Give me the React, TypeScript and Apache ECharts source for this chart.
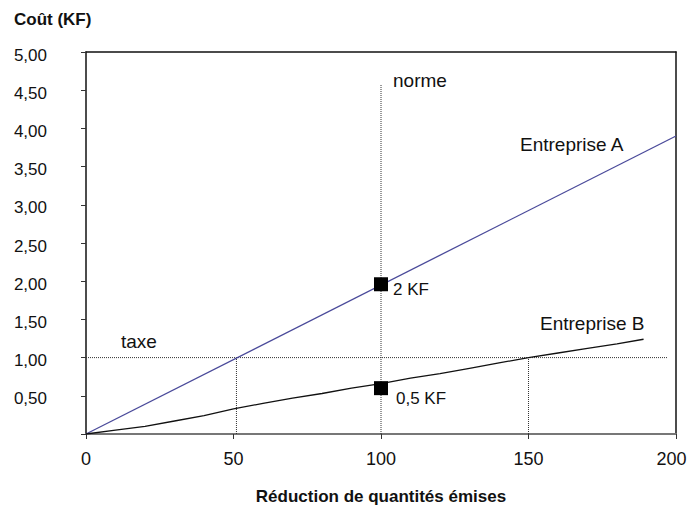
import React, { useEffect, useRef } from "react";
import * as echarts from "echarts";

const xTicks = [0, 50, 100, 150, 200];
const entrepriseA: [number, number][] = [
  [0, 0],
  [200, 3.9],
];
const entrepriseB: [number, number][] = [
  [0, 0],
  [10, 0.05],
  [20, 0.1],
  [30, 0.17],
  [40, 0.24],
  [50, 0.33],
  [60, 0.4],
  [70, 0.47],
  [80, 0.53],
  [90, 0.6],
  [100, 0.66],
  [110, 0.73],
  [120, 0.79],
  [130, 0.86],
  [140, 0.93],
  [150, 1.0],
  [160, 1.06],
  [170, 1.12],
  [180, 1.18],
  [189, 1.24],
];
const taxeLine: [number, number][] = [
  [0, 1],
  [197, 1],
];
const normeLine: [number, number][] = [
  [100, 0],
  [100, 4.57],
];
const dropA: [number, number][] = [
  [51, 0],
  [51, 1],
];
const dropB: [number, number][] = [
  [150, 0],
  [150, 1],
];
const markers: [number, number][] = [
  [100, 1.96],
  [100, 0.6],
];

const FONT = "Liberation Sans, Arial, sans-serif";

export default function App() {
  const ref = useRef<HTMLDivElement>(null);
  useEffect(() => {
    document.body.style.margin = "0";
    if (!ref.current) return;
    const chart = echarts.init(ref.current, undefined, { renderer: "svg" });
    const dotted = (data: [number, number][]) => ({
      type: "line",
      data,
      symbol: "none",
      silent: true,
      lineStyle: { color: "#333", width: 1, type: [1, 1] },
      z: 1,
    });
    const xMax = xTicks[xTicks.length - 1];
    chart.setOption({
      animation: false,
      backgroundColor: "#fff",
      textStyle: { fontFamily: FONT },
      grid: { left: 86, right: 12, top: 52, bottom: 71, containLabel: false, outerBoundsMode: "none" },
      xAxis: [
        {
          type: "value",
          min: 0,
          max: xMax,
          interval: 50,
          position: "bottom",
          axisLine: { show: true, onZero: false, lineStyle: { color: "#777", width: 2 } },
          axisTick: { show: true, length: 5, lineStyle: { color: "#333", width: 1 } },
          axisLabel: {
            color: "#111",
            fontSize: 18,
            margin: 16,
            fontFamily: FONT,
            formatter: (v: number) =>
              v === xMax ? `{m|${v}}` : xTicks.includes(v) ? String(v) : "",
            rich: {
              m: { fontSize: 18, color: "#111", fontFamily: FONT, padding: [0, 9, 0, 0] },
            },
          },
          splitLine: { show: false },
          name: "Réduction de quantités émises",
          nameLocation: "middle",
          nameGap: 54,
          nameTextStyle: { color: "#111", fontSize: 17, fontWeight: "bold", fontFamily: FONT },
        },
        {
          type: "value",
          min: 0,
          max: xMax,
          position: "top",
          axisLine: { show: true, onZero: false, lineStyle: { color: "#111", width: 1.5 } },
          axisTick: { show: false },
          axisLabel: { show: false },
          splitLine: { show: false },
        },
      ],
      yAxis: [
        {
          type: "value",
          min: 0,
          max: 5,
          interval: 0.5,
          axisLine: { show: true, onZero: false, lineStyle: { color: "#111", width: 1.5 } },
          axisTick: { show: true, length: 5, lineStyle: { color: "#333" } },
          axisLabel: {
            color: "#111",
            fontSize: 17,
            margin: 39,
            align: "right",
            fontFamily: FONT,
            formatter: (v: number) => (v === 0 ? "" : `{y|${v.toFixed(2).replace(".", ",")}}`),
            rich: {
              y: { fontSize: 17, color: "#111", fontFamily: FONT, padding: [6, 0, 0, 0] },
            },
          },
          splitLine: { show: false },
        },
        {
          type: "value",
          min: 0,
          max: 5,
          position: "right",
          axisLine: { show: true, onZero: false, lineStyle: { color: "#111", width: 1.5 } },
          axisTick: { show: false },
          axisLabel: { show: false },
          splitLine: { show: false },
        },
      ],
      series: [
        dotted(taxeLine),
        dotted(normeLine),
        dotted(dropA),
        dotted(dropB),
        {
          type: "line",
          name: "Entreprise A",
          data: entrepriseA,
          symbol: "none",
          lineStyle: { color: "#4a4a9a", width: 1.3 },
          z: 3,
        },
        {
          type: "line",
          name: "Entreprise B",
          data: entrepriseB,
          symbol: "none",
          lineStyle: { color: "#111", width: 1.3 },
          z: 3,
        },
        {
          type: "scatter",
          data: markers,
          symbol: "rect",
          symbolSize: 14,
          itemStyle: { color: "#000", opacity: 1 },
          z: 5,
        },
      ],
      graphic: [
        { type: "text", left: 14, top: 11, style: { text: "Coût (KF)", fontSize: 17, fontWeight: "bold", fill: "#111", fontFamily: FONT } },
        { type: "text", left: 393, top: 71, style: { text: "norme", fontSize: 19, fill: "#111", fontFamily: FONT } },
        { type: "text", left: 520, top: 135, style: { text: "Entreprise A", fontSize: 19, fill: "#111", fontFamily: FONT } },
        { type: "text", left: 540, top: 314, style: { text: "Entreprise B", fontSize: 19, fill: "#111", fontFamily: FONT } },
        { type: "text", left: 121, top: 332, style: { text: "taxe", fontSize: 19, fill: "#111", fontFamily: FONT } },
        { type: "text", left: 393, top: 281, style: { text: "2 KF", fontSize: 17, fill: "#111", fontFamily: FONT } },
        { type: "text", left: 396, top: 390, style: { text: "0,5 KF", fontSize: 17, fill: "#111", fontFamily: FONT } },
      ],
    });
    return () => chart.dispose();
  }, []);
  return <div ref={ref} style={{ width: 688, height: 505 }} />;
}
